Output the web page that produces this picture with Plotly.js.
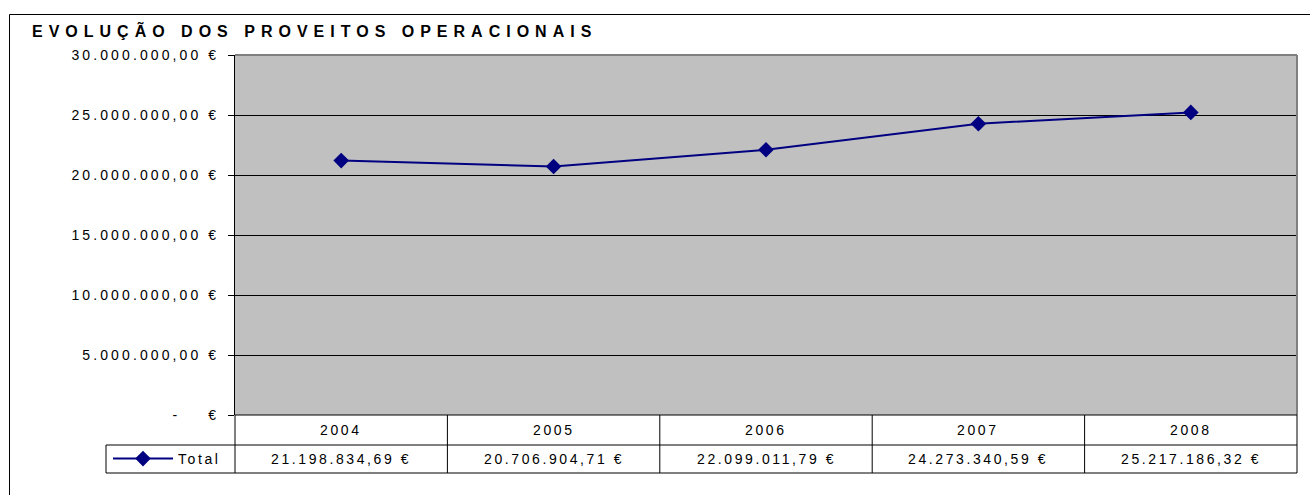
<!DOCTYPE html>
<html>
<head>
<meta charset="utf-8">
<script src="https://cdn.plot.ly/plotly-3.0.1.min.js"></script>
<style>
  body { margin: 0; background: #fff; }
  #chart { width: 1310px; height: 495px; }
  .gtitle { letter-spacing: 6px; }
  .ytick text { letter-spacing: 3.1px; }
  .annotation-text { letter-spacing: 2.6px; }
  .legendtext { letter-spacing: 2.6px; }
</style>
</head>
<body>
<div id="chart"></div>
<script>
// data
let years = ['2004', '2005', '2006', '2007', '2008'];
let totals = [21198834.69, 20706904.71, 22099011.79, 24273340.59, 25217186.32];
let yTicks = [0, 5000000, 10000000, 15000000, 20000000, 25000000, 30000000];

// Portuguese euro format, e.g. 21.198.834,69 €
function euro(v) {
  if (v === 0) return '-\u00a0\u00a0\u00a0\u00a0€';
  let parts = v.toFixed(2).split('.');
  let int = parts[0].replace(/\B(?=(\d{3})+(?!\d))/g, '.');
  return int + ',' + parts[1] + ' €';
}

let font = 'Liberation Sans, Arial, sans-serif';

let data = [{
  x: years,
  y: totals,
  name: 'Total',
  type: 'scatter',
  mode: 'lines+markers',
  line: {color: '#000080', width: 2},
  marker: {symbol: 'diamond', size: 12, color: '#000080'}
}];

// data table under the plot (rows in paper units)
let row1 = -30 / 360;
let row2 = -58 / 360;
let legLeft = -129 / 1062;

let shapes = [
  // plot border: top and right gray
  {type: 'line', xref: 'paper', yref: 'paper', x0: 0, x1: 1, y0: 1, y1: 1, line: {color: '#808080', width: 2}},
  {type: 'line', xref: 'paper', yref: 'paper', x0: 1, x1: 1, y0: 0, y1: 1, line: {color: '#808080', width: 2}},
  // table lines
  {type: 'line', xref: 'paper', yref: 'paper', x0: 0, x1: 1, y0: 0, y1: 0, line: {color: '#000', width: 1}},
  {type: 'line', xref: 'paper', yref: 'paper', x0: legLeft, x1: 1, y0: row1, y1: row1, line: {color: '#000', width: 1}},
  {type: 'line', xref: 'paper', yref: 'paper', x0: legLeft, x1: 1, y0: row2, y1: row2, line: {color: '#000', width: 1}},
  {type: 'line', xref: 'paper', yref: 'paper', x0: legLeft, x1: legLeft, y0: row1, y1: row2, line: {color: '#000', width: 1}},
  // outer chart border
  {type: 'rect', xref: 'paper', yref: 'paper', x0: -225.5 / 1062, x1: 1.05, y0: 400.5 / 360, y1: -0.3, line: {color: '#000', width: 1}}
];
for (let k = 0; k <= years.length; k++) {
  shapes.push({type: 'line', xref: 'paper', yref: 'paper', x0: k / years.length, x1: k / years.length,
    y0: 0, y1: row2, line: {color: '#000', width: 1}});
}

let annotations = [];
years.forEach(function (yr, i) {
  annotations.push({x: i, xref: 'x', y: row1 / 2, yref: 'paper', text: yr, showarrow: false,
    xanchor: 'center', yanchor: 'middle',
    font: {family: font, size: 14, color: '#000'}});
  annotations.push({x: i, xref: 'x', y: (row1 + row2) / 2, yref: 'paper', text: euro(totals[i]), showarrow: false,
    xanchor: 'center', yanchor: 'middle',
    font: {family: font, size: 14, color: '#000'}});
});

let layout = {
  width: 1310,
  height: 495,
  margin: {l: 235, r: 13, t: 55, b: 80},
  paper_bgcolor: '#fff',
  plot_bgcolor: '#C0C0C0',
  font: {family: font, size: 14, color: '#000'},
  title: {
    text: 'EVOLUÇÃO DOS PROVEITOS OPERACIONAIS',
    font: {family: font, size: 16, weight: 'bold', color: '#000'},
    x: 32 / 1310, xanchor: 'left', xref: 'container',
    y: 1 - 31 / 495, yanchor: 'middle', yref: 'container'
  },
  xaxis: {
    type: 'category',
    range: [-0.5, years.length - 0.5],
    showticklabels: false,
    showgrid: false,
    zeroline: false,
    showline: false,
    ticks: ''
  },
  yaxis: {
    range: [0, 30000000],
    tickmode: 'array',
    tickvals: yTicks,
    ticktext: yTicks.map(euro),
    showgrid: true,
    gridcolor: '#000',
    gridwidth: 1,
    zeroline: false,
    showline: true,
    linecolor: '#000',
    linewidth: 1,
    ticks: 'outside',
    ticklen: 6,
    tickcolor: '#000',
    ticklabelstandoff: 6,
    tickfont: {family: font, size: 14, color: '#000'}
  },
  showlegend: true,
  legend: {
    x: -127 / 1062, xanchor: 'left',
    y: (row1 + row2) / 2, yanchor: 'middle',
    itemwidth: 60,
    bgcolor: 'rgba(0,0,0,0)',
    font: {family: font, size: 14, color: '#000'}
  },
  shapes: shapes,
  annotations: annotations
};

Plotly.newPlot('chart', data, layout, {displayModeBar: false});
</script>
</body>
</html>
